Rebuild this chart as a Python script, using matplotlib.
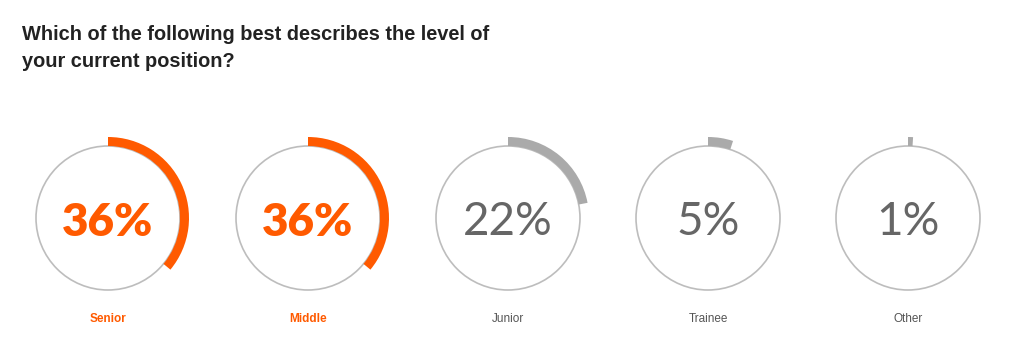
import matplotlib
matplotlib.use('Agg')
import matplotlib.pyplot as plt
from matplotlib.patches import Wedge, Circle

# 数据
categories = ['Senior', 'Middle', 'Junior', 'Trainee', 'Other']
percentages = [36, 36, 22, 5, 1]
highlight = [True, True, False, False, False]

title = 'Which of the following best describes the level of\nyour current position?'

orange = '#FF5A00'
grey_arc = '#AAAAAA'
grey_ring = '#BDBDBD'
grey_text = '#666666'

W, H = 1011, 358
fig = plt.figure(figsize=(W / 100, H / 100), dpi=100)
ax = fig.add_axes([0, 0, 1, 1])
ax.set_xlim(0, W)
ax.set_ylim(H, 0)
ax.set_aspect('equal')
ax.axis('off')

fig.text(22 / W, 1 - 25 / H, title, ha='left', va='top', fontsize=14.4,
         fontweight='bold', color='#222222', family='Liberation Sans',
         linespacing=1.55)

cy = 218
r_ring = 72
r_out = 81
for i, (cat, pct, hl) in enumerate(zip(categories, percentages, highlight)):
    cx = 108 + 200 * i
    ax.add_patch(Circle((cx, cy), r_ring, fill=False, ec=grey_ring, lw=1.2))
    col = orange if hl else grey_arc
    # y轴向下, 所以角度方向反过来: 顶部为 -90, 顺时针为增加
    ax.add_patch(Wedge((cx, cy), r_out, -90, -90 + pct * 3.6, width=r_out - r_ring,
                       fc=col, ec='none'))
    if hl:
        ax.text(cx, cy + 4, f'{pct}%', ha='center', va='center', fontsize=33,
                fontweight='heavy', color=orange, family='Lato')
    else:
        ax.text(cx, cy + 4, f'{pct}%', ha='center', va='center', fontsize=33,
                fontweight='normal', color=grey_text, family='Lato')
    ax.text(cx, 319, cat, ha='center', va='center', fontsize=8.5,
            fontweight='bold' if hl else 'normal',
            color=orange if hl else '#555555', family='Liberation Sans')

fig.savefig('out.png', dpi=100)
